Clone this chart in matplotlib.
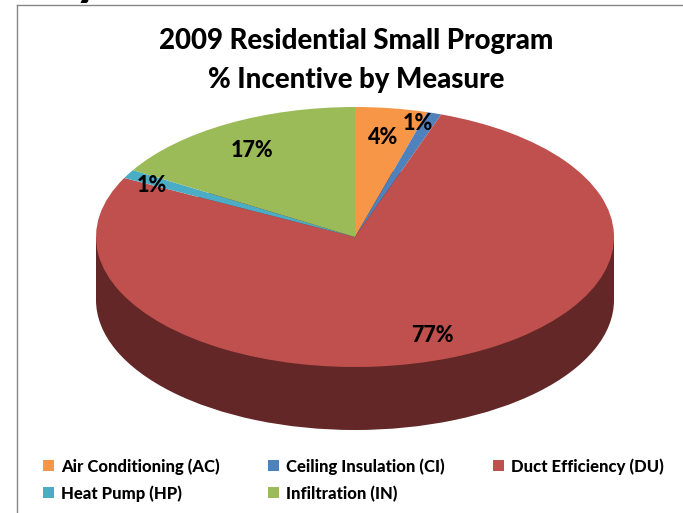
import matplotlib
matplotlib.use("Agg")
import matplotlib.pyplot as plt
from matplotlib.patches import Rectangle

W, H = 683, 513

measures = ['Air Conditioning (AC)', 'Ceiling Insulation (CI)', 'Duct Efficiency (DU)',
            'Heat Pump (HP)', 'Infiltration (IN)']
shares = [4.5, 0.9, 77.1, 1.1, 16.4]
pct_labels = ['4%', '1%', '77%', '1%', '17%']
colors = ['#F79646', '#4F81BD', '#C0504D', '#4BACC6', '#9BBB59']
side_color = '#622726'
title_lines = ['2009 Residential Small Program', '% Incentive by Measure']

plt.rcParams['font.family'] = ['Lato', 'DejaVu Sans']

fig = plt.figure(figsize=(W / 100, H / 100), dpi=100)

# axes box is the bounding box of the top ellipse plus the depth of the side
cx, cy, rx, ry, depth = 355, 237, 259, 130, 63
ax = fig.add_axes([(cx - rx) / W, 1 - (cy + ry + depth) / H, 2 * rx / W, (2 * ry + depth) / H])

side_h = depth / ry
ax.pie([1], colors=[side_color], radius=1, center=(0, -side_h), frame=True)
ax.add_patch(Rectangle((-1, -side_h), 2, side_h, color=side_color, lw=0))
ax.pie(shares, colors=colors, startangle=90, counterclock=False, radius=1, center=(0, 0), frame=True)
ax.set_xlim(-1, 1)
ax.set_ylim(-1 - side_h, 1)
ax.set_aspect('auto')
ax.axis('off')

# percent labels sit by hand in the reference
label_pos = [(383, 137), (418, 124), (432, 335), (152, 185), (252, 151)]
for txt, (x, y) in zip(pct_labels, label_pos):
    fig.text(x / W, 1 - y / H, txt, fontsize=15.5, fontweight=900, ha='center', va='center', color='black')

fig.text(356 / W, 1 - 40.5 / H, title_lines[0], fontsize=19.9, fontweight=900, ha='center', va='center')
fig.text(356 / W, 1 - 80 / H, title_lines[1], fontsize=19.9, fontweight=900, ha='center', va='center')

# legend, 3 columns by hand to keep the reference spacing
leg_x = [43, 268, 493, 43, 268]
leg_y = [466, 466, 466, 493, 493]
for name, c, x, y in zip(measures, colors, leg_x, leg_y):
    fig.add_artist(Rectangle((x / W, 1 - (y + 5) / H), 11 / W, 11 / H, color=c, lw=0, transform=fig.transFigure))
    fig.text((x + 18) / W, 1 - (y + 0.7) / H, name, fontsize=12, fontweight=900, ha='left', va='center')

# chart frame, left and top edges show
fig.add_artist(plt.Line2D([17 / W, 17 / W], [0, 1 - 5 / H], color='#868686', lw=1))
fig.add_artist(plt.Line2D([17 / W, 1], [1 - 5 / H, 1 - 5 / H], color='#868686', lw=1))

# tail of the slide title cut off above the chart
fig.text(88 / W, 1 + 19.5 / H, 'y', fontsize=36, fontweight=900, ha='center', va='center')

fig.savefig('out.png', dpi=100)
